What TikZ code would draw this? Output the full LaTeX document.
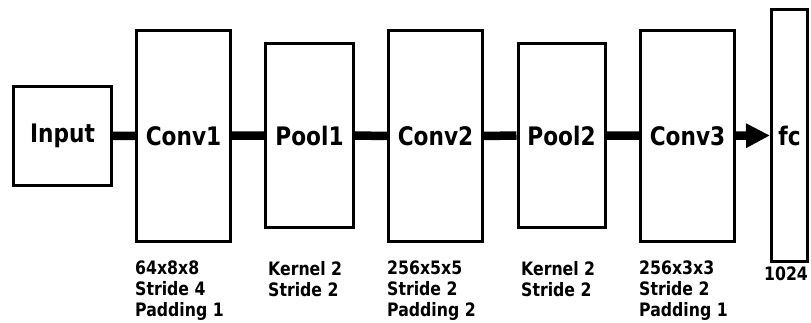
\documentclass[tikz,border=0pt]{standalone}
\usepackage{fontspec}
\newfontfamily\netfont{DejaVu Sans}[FakeStretch=0.85]
\usetikzlibrary{arrows.meta}
\tikzset{
  layer/.style={draw, line width=3pt, fill=white, inner sep=0pt,
    font=\netfont\bfseries\fontsize{25.5}{28}\selectfont},
  link/.style={line width=8.5pt},
  note/.style={anchor=north west, inner sep=0pt, align=left,
    font=\netfont\bfseries\fontsize{18.5}{21}\selectfont}
}
\begin{document}
\begin{tikzpicture}[x=1pt, y=-1pt]
\useasboundingbox (0,0) rectangle (811,323);
% layers
\node[layer, minimum width=98pt, minimum height=99pt]  (input) at (62.5,136)    {Input};
\node[layer, minimum width=94pt, minimum height=210.5pt] (conv1) at (183.5,135.75) {Conv1};
\node[layer, minimum width=88pt, minimum height=184pt] (pool1) at (309.5,135.5) {Pool1};
\node[layer, minimum width=94pt, minimum height=211pt] (conv2) at (435.5,136)  {Conv2};
\node[layer, minimum width=87pt, minimum height=184pt] (pool2) at (561.5,135.5) {Pool2};
\node[layer, minimum width=94pt, minimum height=210.5pt] (conv3) at (687.5,135.75) {Conv3};
\node[layer, minimum width=36pt, minimum height=252pt] (fc) at (789.5,135.5) {fc};
% connections
\draw[link] (input.east) -- (conv1.west);
\draw[link] (conv1.east) -- (pool1.west);
\draw[link] (pool1.east) -- (conv2.west);
\draw[link] (conv2.east) -- (pool2.west);
\draw[link] (pool2.east) -- (conv3.west);
\draw[link, -{Triangle[length=24pt, width=23pt]}] (conv3.east) -- (fc.west);
% layer parameters
\node[note] (n1) at (135,261) {64x8x8\\Stride 4\\Padding 1};
\node[note] (n2) at (268,261) {Kernel 2\\Stride 2};
\node[note] (n3) at (387,261) {256x5x5\\Stride 2\\Padding 2};
\node[note] (n4) at (521,261) {Kernel 2\\Stride 2};
\node[note] (n5) at (639,261) {256x3x3\\Stride 2\\Padding 1};
\node[note, anchor=north] (n6) at (786,267) {1024};
\end{tikzpicture}
\end{document}
